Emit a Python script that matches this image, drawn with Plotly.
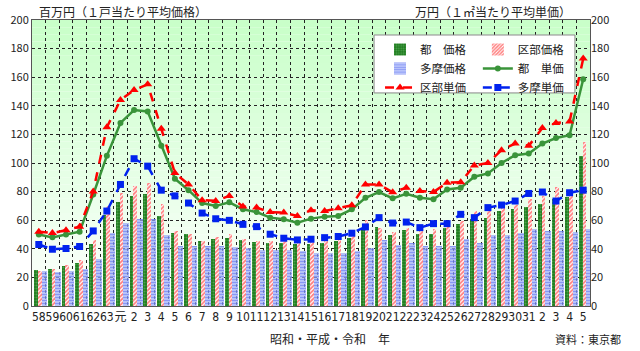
import plotly.graph_objects as go

labels = ["58","59","60","61","62","63","元","2","3","4","5","6","7","8","9","10",
          "11","12","13","14","15","16","17","18","19","20","21","22","23","24","25",
          "26","27","28","29","30","31","2","3","4","5"]

to_price = [25,26.2,28,30.4,43.7,63.4,73,76.9,78,63,
            51.3,50.2,45.5,46.7,47.8,46.2,44.8,43.9,44.4,43.7,
            43.7,44.4,45.5,47.8,53.7,55.5,49.5,53,50.2,50.2,54.8,
            57.1,60.6,61.8,66.4,67.6,69.5,71.6,74.6,76.4,104.7]
ku_price = [24.6,26.2,29,32.3,46.2,70,79.2,83.9,86.2,71,
            52.5,50.6,45.5,48.6,50.2,46.7,45.5,45.5,45.5,45.5,
            44.8,45.5,46.7,49,60.1,54.8,52,54.4,52.5,53.7,57,
            59.5,66.4,66.4,72.2,70.6,74.6,76.9,83.4,81.5,114.5]
tama_price = [24.6,24,24.6,25.8,32.8,50.9,58.3,60.6,60.6,50,
              42,42,42,42,41.4,40.7,38.9,39.5,39.5,38.8,
              37.4,37.4,37.4,38.5,40.9,46.2,42.5,43.9,42,42,42,
              46.7,44.4,49.5,49.5,51.4,53.7,52.5,52.5,51.8,53.7]

to_unit = [50,48,50,52,78,105,128,137,136,112,89,81,72,70,72.5,
           67.6,65.7,61.8,60.6,58.3,61.1,62.5,63,67.6,75.7,79.7,75.3,
           78.5,75.7,74.6,81.5,82.7,90.4,92.7,100,105.5,106.6,113.6,117.5,119.4,158.6]
ku_unit = [52,51,53,55.5,80,125,144,151,155,124,93,85,74,73.5,77,
           69.5,68.8,65.7,65.3,63,67,66.4,68.3,70.4,85,85,79.5,
           82.7,80.4,79.7,86.2,86.6,98.3,100,109,113.6,112,124.5,128,129,173]
tama_unit = [43,39.7,40.2,41.6,52.5,66.4,85,103,97.8,81,77,72,65,61,59.9,
             57.1,55.5,50.2,47.4,46.2,46.7,47.8,48.6,50.9,55.3,61.8,58,
             58.7,54.8,57.6,57.6,64.1,61.8,68.8,70.6,73.4,78.7,79.7,73.4,79.2,81]

xs = list(range(len(labels)))
FONT = "Noto Sans CJK JP, Noto Sans, sans-serif"
NARROW = "Liberation Sans Narrow, DejaVu Sans Condensed, Noto Sans CJK JP, sans-serif"

fig = go.Figure()

fig.add_trace(go.Bar(
    x=xs, y=to_price, name="都　価格", offset=-0.32, width=0.27, legend="legend",
    marker=dict(color="#1f7a1f", line=dict(width=0),
                pattern=dict(shape=".", fgcolor="#7fd07f", bgcolor="#1f7a1f", size=3, solidity=0.4)),
))
fig.add_trace(go.Bar(
    x=xs, y=ku_price, name="区部価格", offset=-0.05, width=0.27, legend="legend2",
    marker=dict(color="#ff0000", line=dict(width=0),
                pattern=dict(shape="/", fgcolor="#ff0000", bgcolor="#ffffff", size=3, solidity=0.6)),
))
fig.add_trace(go.Bar(
    x=xs, y=tama_price, name="多摩価格", offset=0.22, width=0.4, legend="legend",
    marker=dict(color="rgba(110,130,245,0.7)", line=dict(width=0),
                pattern=dict(shape="-", fgcolor="rgba(50,70,235,0.75)", bgcolor="rgba(160,175,250,0.7)", size=3, solidity=0.4)),
))
fig.add_trace(go.Scatter(
    x=xs, y=to_unit, name="都　単価", yaxis="y2", mode="lines+markers", legend="legend2",
    line=dict(color="#3a943a", width=2.5),
    marker=dict(symbol="circle", size=6, color="#3a943a"),
))
fig.add_trace(go.Scatter(
    x=xs, y=ku_unit, name="区部単価", yaxis="y2", mode="lines+markers", legend="legend",
    line=dict(color="#ff0000", width=2.5, dash="dash"),
    marker=dict(symbol="triangle-up", size=8, color="#ff0000"),
))
fig.add_trace(go.Scatter(
    x=xs, y=tama_unit, name="多摩単価", yaxis="y2", mode="lines+markers", legend="legend2",
    line=dict(color="#0022ee", width=2.5, dash="dash"),
    marker=dict(symbol="square", size=7, color="#0022ee"),
))

# gradient background for plot area
shapes = []
n = 40
for k in range(n):
    t = (k + 0.5) / n
    r = int(round(255 - (255 - 200) * t))
    g = 255
    b = int(round(255 - (255 - 200) * t))
    shapes.append(dict(type="rect", xref="paper", yref="paper", x0=0, x1=1,
                       y0=k / n, y1=(k + 1) / n, fillcolor=f"rgb({r},{g},{b})",
                       line=dict(width=0), layer="below"))
# legend box
shapes.append(dict(type="rect", xref="paper", yref="paper", x0=0.613, x1=0.973,
                   y0=0.745, y1=0.9476, fillcolor="white",
                   line=dict(width=1, color="#888"), layer="above"))

legend_common = dict(orientation="v", y=0.9476, yanchor="top", xanchor="left",
                     bgcolor="rgba(0,0,0,0)", borderwidth=0,
                     font=dict(size=11.5), itemwidth=30, tracegroupgap=0)

fig.update_layout(
    width=640, height=351,
    margin=dict(l=32, r=50, t=20, b=45, autoexpand=False),
    paper_bgcolor="white", plot_bgcolor="white",
    font=dict(family=FONT, size=11, color="#222"),
    barmode="overlay", bargap=0,
    shapes=shapes,
    xaxis=dict(range=[-0.5, len(labels) - 0.5], tickmode="array", tickvals=xs, ticktext=labels,
               tickangle=0, ticks="", showgrid=False, zeroline=False,
               tickfont=dict(size=12, family=NARROW),
               showline=True, linecolor="#555", linewidth=1, mirror=True,
               minor=dict(tickmode="array", tickvals=[i + 0.5 for i in range(len(labels) - 1)],
                          showgrid=True, gridcolor="#222", griddash="dot", gridwidth=1)),
    yaxis=dict(range=[0, 200], dtick=20, ticks="", showgrid=True, gridcolor="#222",
               griddash="dot", gridwidth=1, zeroline=False, tickfont=dict(size=11),
               showline=True, linecolor="#555", mirror=True),
    yaxis2=dict(range=[0, 200], dtick=20, overlaying="y", side="right", ticks="",
                showgrid=False, zeroline=False, tickfont=dict(size=11)),
    legend=dict(x=0.6237, **legend_common),
    legend2=dict(x=0.799, **legend_common),
    annotations=[
        dict(text="百万円（１戸当たり平均価格）", xref="paper", yref="paper", x=0.009, y=1.028,
             xanchor="left", yanchor="middle", showarrow=False, font=dict(size=12)),
        dict(text="万円（１㎡当たり平均単価）", xref="paper", yref="paper", x=0.9695, y=1.028,
             xanchor="right", yanchor="middle", showarrow=False, font=dict(size=12)),
        dict(text="昭和・平成・令和　年", xref="paper", yref="paper", x=0.534, y=-0.112,
             xanchor="center", yanchor="middle", showarrow=False, font=dict(size=12)),
        dict(text="資料：東京都", xref="paper", yref="paper", x=1.059, y=-0.115,
             xanchor="right", yanchor="middle", showarrow=False, font=dict(size=11)),
    ],
)

fig.write_html("out.html")
